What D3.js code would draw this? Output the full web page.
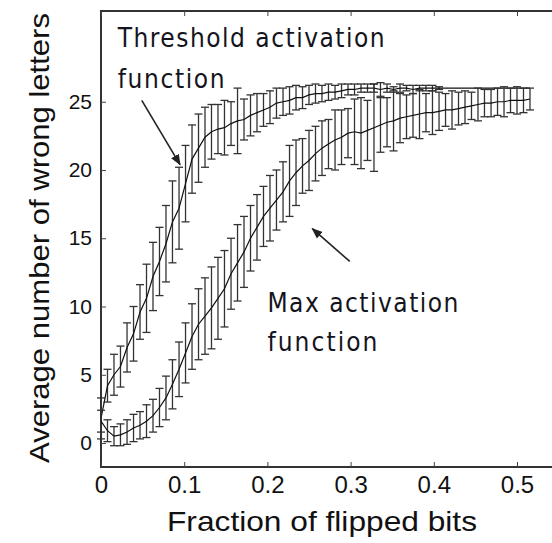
<!DOCTYPE html>
<html>
<head>
<meta charset="utf-8">
<script src="https://cdn.jsdelivr.net/npm/d3@7"></script>
<style>
    body { margin: 0; background: #fff; }
    svg { display: block; }
    .tick-label { font-family: 'Liberation Sans', Arial, sans-serif; fill: #111; }
    .axis-label { font-family: 'Liberation Sans', Arial, sans-serif; fill: #111; }
    .note { font-family: 'Liberation Sans Narrow', 'DejaVu Sans Condensed', 'Liberation Sans', sans-serif; font-stretch: condensed; fill: #141420; }
</style>
</head>
<body>
<svg id="chart" width="552" height="543"></svg>
<script>
// fraction of flipped bits, sampled every 1/128
const fractions = [
    0.0000, 0.0078, 0.0156, 0.0234, 0.0313, 0.0391, 0.0469, 0.0547, 0.0625, 0.0703,
    0.0781, 0.0859, 0.0938, 0.1016, 0.1094, 0.1172, 0.1250, 0.1328, 0.1406, 0.1484,
    0.1563, 0.1641, 0.1719, 0.1797, 0.1875, 0.1953, 0.2031, 0.2109, 0.2188, 0.2266,
    0.2344, 0.2422, 0.2500, 0.2578, 0.2656, 0.2734, 0.2813, 0.2891, 0.2969, 0.3047,
    0.3125, 0.3203, 0.3281, 0.3359, 0.3438, 0.3516, 0.3594, 0.3672, 0.3750, 0.3828,
    0.3906, 0.3984, 0.4063, 0.4141, 0.4219, 0.4297, 0.4375, 0.4453, 0.4531, 0.4609,
    0.4688, 0.4766, 0.4844, 0.4922, 0.5000, 0.5078, 0.5156
];

// threshold activation function: mean wrong letters and error half-width
const thresholdMean = [
    1.8, 4.2, 5.0, 5.6, 7.0, 8.0, 9.6, 10.6, 12.2, 13.3,
    14.6, 16.2, 17.2, 19.0, 20.8, 21.6, 22.4, 22.8, 23.0, 23.1,
    23.4, 23.6, 23.7, 24.0, 24.2, 24.4, 24.6, 24.9, 25.0, 25.1,
    25.3, 25.3, 25.5, 25.6, 25.6, 25.7, 25.7, 25.8, 25.9, 25.9,
    26.0, 26.0, 26.0, 25.9, 26.0, 25.9, 26.0, 26.0, 25.9, 26.0,
    26.0, 26.0, 26.0, 26.0, 26.0, 26.0, 26.0, 26.0, 26.0, 26.0,
    26.0, 26.0, 26.0, 26.0, 26.0, 26.0, 26.0
];
const thresholdErr = [
    1.5, 1.2, 1.5, 1.5, 1.8, 2.0, 2.0, 2.5, 2.5, 2.5,
    2.8, 3.0, 3.0, 2.8, 2.5, 2.5, 2.2, 2.0, 1.8, 2.0,
    1.6, 2.4, 1.5, 1.5, 1.4, 1.2, 1.2, 1.1, 1.0, 1.0,
    0.9, 0.8, 0.7, 0.7, 0.6, 0.6, 0.5, 0.5, 0.4, 0.4,
    0.3, 0.3, 0.3, 0.5, 0.3, 0.2, 0.3, 0.2, 0.3, 0.2,
    0.2, 0.2, 0.1, 0.0, 0.0, 0.0, 0.0, 0.0, 0.0, 0.0,
    0.0, 0.0, 0.0, 0.0, 0.0, 0.0, 0.0
];

// max activation function
const maxMean = [
    1.6, 0.9, 0.5, 0.6, 0.8, 1.1, 1.3, 1.6, 2.0, 2.6,
    3.3, 4.3, 5.4, 6.6, 7.8, 8.7, 9.3, 9.9, 10.6, 11.3,
    12.4, 13.2, 14.0, 15.0, 15.8, 16.6, 17.2, 17.8, 18.4, 19.2,
    19.8, 20.3, 20.7, 21.2, 21.6, 21.9, 22.2, 22.4, 22.7, 22.8,
    22.7, 22.9, 23.1, 23.3, 23.5, 23.6, 23.8, 23.9, 24.0, 24.1,
    24.2, 24.2, 24.3, 24.4, 24.4, 24.5, 24.6, 24.7, 24.8, 24.9,
    24.9, 25.0, 25.0, 25.1, 25.1, 25.1, 25.2
];
const maxErr = [
    0.8, 0.8, 0.7, 0.8, 0.9, 1.0, 1.0, 1.2, 1.2, 1.4,
    1.6, 1.8, 2.0, 2.2, 2.4, 2.6, 2.8, 3.0, 3.0, 2.8,
    2.6, 2.8, 2.6, 2.4, 2.4, 2.2, 2.4, 2.2, 2.2, 2.6,
    2.4, 2.0, 2.2, 2.0, 2.0, 1.8, 2.2, 2.0, 1.8, 2.4,
    2.6, 2.2, 3.2, 2.0, 1.8, 2.2, 1.8, 1.6, 1.6, 1.8,
    1.4, 1.6, 1.4, 1.2, 1.4, 1.2, 1.2, 1.0, 1.2, 1.0,
    1.0, 1.0, 1.1, 0.9, 1.0, 0.9, 0.8
];

const xTicks = [0, 0.1, 0.2, 0.3, 0.4, 0.5];
const xTickLabels = ['0', '0.1', '0.2', '0.3', '0.4', '0.5'];
const yTicks = [0, 5, 10, 15, 20, 25];
const yTickLabels = ['0', '5', '10', '15', '20', '25'];

const xLabel = 'Fraction of flipped bits';
const yLabel = 'Average number of wrong letters';

// annotations in data coordinates
const notes = [
    { lines: ['Threshold activation', 'function'], x: 0.02, y: [29.0, 26.0], widths: [267, 107],
      arrow: { from: [0.049, 25.1], to: [0.095, 20.4] } },
    { lines: ['Max activation', 'function'], x: 0.2, y: [9.6, 6.74], widths: [191, 110],
      arrow: { from: [0.299, 13.3], to: [0.254, 15.7] } }
];

const svg = d3.select('#chart');

const DIMENSIONS = {
    width: 552,
    height: 543,
    margin_left: 101,
    margin_top: 11,
    plot_bottom: 467
};

const x_scale = d3.scaleLinear()
    .domain([0, 0.5])
    .range([DIMENSIONS.margin_left, 517]);
const x_right = x_scale(0.55);

const y_scale = d3.scaleLinear()
    .domain([0, 25])
    .range([443, 443 - 25 * 13.65]);

// frame
svg.append('rect')
    .attr('x', DIMENSIONS.margin_left)
    .attr('y', DIMENSIONS.margin_top)
    .attr('width', x_right - DIMENSIONS.margin_left)
    .attr('height', DIMENSIONS.plot_bottom - DIMENSIONS.margin_top)
    .attr('fill', 'none')
    .attr('stroke', '#333')
    .attr('stroke-width', 2);

// axes with inward ticks
const x_axis = svg.append('g')
    .attr('transform', `translate(0, ${DIMENSIONS.plot_bottom})`)
    .call(d3.axisBottom(x_scale).tickValues(xTicks).tickSizeInner(-5).tickSizeOuter(0)
        .tickPadding(9).tickFormat((d, i) => xTickLabels[i]));
x_axis.select('.domain').remove();
x_axis.selectAll('line').attr('stroke', '#444');
x_axis.selectAll('text').attr('class', 'tick-label').style('font-size', '24px');

const x_axis_top = svg.append('g')
    .attr('transform', `translate(0, ${DIMENSIONS.margin_top})`)
    .call(d3.axisTop(x_scale).tickValues(xTicks).tickSizeInner(-5).tickSizeOuter(0).tickFormat(''));
x_axis_top.select('.domain').remove();
x_axis_top.selectAll('line').attr('stroke', '#444');

const y_axis = svg.append('g')
    .attr('transform', `translate(${DIMENSIONS.margin_left}, 0)`)
    .call(d3.axisLeft(y_scale).tickValues(yTicks).tickSizeInner(-5).tickSizeOuter(0)
        .tickPadding(9).tickFormat((d, i) => yTickLabels[i]));
y_axis.select('.domain').remove();
y_axis.selectAll('line').attr('stroke', '#444');
y_axis.selectAll('text').attr('class', 'tick-label').style('font-size', '21px');

// axis labels
svg.append('text')
    .attr('class', 'axis-label')
    .attr('x', 167)
    .attr('y', 531)
    .attr('textLength', 310)
    .attr('lengthAdjust', 'spacingAndGlyphs')
    .style('font-size', '28px')
    .text(xLabel);

svg.append('text')
    .attr('class', 'axis-label')
    .attr('transform', 'translate(49, 463) rotate(-90)')
    .attr('textLength', 450)
    .attr('lengthAdjust', 'spacingAndGlyphs')
    .style('font-size', '28px')
    .text(yLabel);

// series
const series = [
    { mean: thresholdMean, err: thresholdErr },
    { mean: maxMean, err: maxErr }
];

const line = d3.line()
    .x(d => x_scale(d.x))
    .y(d => y_scale(d.y));

const cap = 4;

series.forEach(s => {
    const pts = fractions.map((f, i) => ({ x: f, y: s.mean[i], e: s.err[i] }));
    const g = svg.append('g');

    const bars = g.selectAll('.bar')
        .data(pts.filter(d => d.e > 0))
        .join('g')
        .attr('class', 'bar')
        .attr('stroke', '#333')
        .attr('stroke-width', 1.3);
    bars.append('line')
        .attr('x1', d => x_scale(d.x)).attr('x2', d => x_scale(d.x))
        .attr('y1', d => y_scale(d.y - d.e)).attr('y2', d => y_scale(d.y + d.e));
    bars.append('line')
        .attr('x1', d => x_scale(d.x) - cap).attr('x2', d => x_scale(d.x) + cap)
        .attr('y1', d => y_scale(d.y - d.e)).attr('y2', d => y_scale(d.y - d.e));
    bars.append('line')
        .attr('x1', d => x_scale(d.x) - cap).attr('x2', d => x_scale(d.x) + cap)
        .attr('y1', d => y_scale(d.y + d.e)).attr('y2', d => y_scale(d.y + d.e));

    g.append('path')
        .datum(pts)
        .attr('d', line)
        .attr('fill', 'none')
        .attr('stroke', '#111')
        .attr('stroke-width', 1.2);
});

// annotations
svg.append('defs').append('marker')
    .attr('id', 'head')
    .attr('viewBox', '0 0 10 10')
    .attr('refX', 9).attr('refY', 5)
    .attr('markerWidth', 11).attr('markerHeight', 11)
    .attr('markerUnits', 'userSpaceOnUse')
    .attr('orient', 'auto')
    .append('path')
    .attr('d', 'M0,1 L10,5 L0,9 Z')
    .attr('fill', '#222');

notes.forEach(n => {
    n.lines.forEach((t, i) => {
        svg.append('text')
            .attr('class', 'note')
            .attr('x', x_scale(n.x))
            .attr('y', y_scale(n.y[i]))
            .attr('textLength', n.widths[i])
            .attr('lengthAdjust', 'spacing')
            .style('font-size', '26px')
            .text(t);
    });
    svg.append('line')
        .attr('x1', x_scale(n.arrow.from[0])).attr('y1', y_scale(n.arrow.from[1]))
        .attr('x2', x_scale(n.arrow.to[0])).attr('y2', y_scale(n.arrow.to[1]))
        .attr('stroke', '#222')
        .attr('stroke-width', 1.6)
        .attr('marker-end', 'url(#head)');
});
</script>
</body>
</html>
